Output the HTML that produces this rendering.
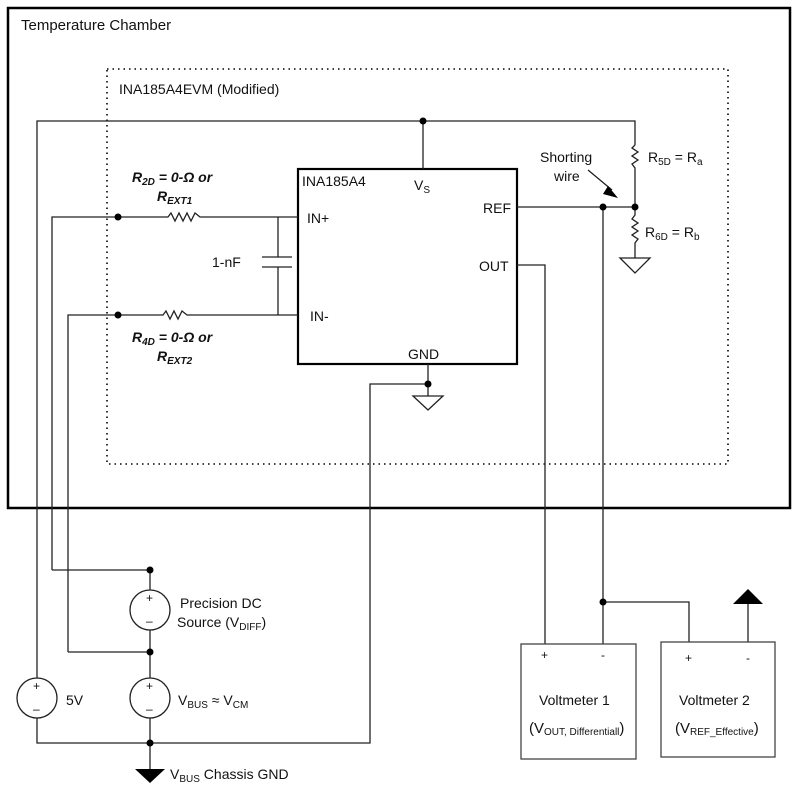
<!DOCTYPE html>
<html><head><meta charset="utf-8"><style>
html,body{margin:0;padding:0;background:#fff}
svg{display:block}
text{font-family:"Liberation Sans",sans-serif;fill:#111}
</style></head><body>
<svg width="797" height="788" viewBox="0 0 797 788" xmlns="http://www.w3.org/2000/svg">
<g fill="none" stroke="#222" stroke-width="1.3">
<rect x="8" y="8" width="782" height="500" stroke="#000" stroke-width="2.5"/>
<rect x="107" y="69" width="621" height="395" stroke="#000" stroke-width="1.6" stroke-dasharray="1.5,4"/>
<rect x="298" y="169" width="219" height="195" stroke="#000" stroke-width="2.2"/>
<!-- top wire -->
<polyline points="37,678 37,121 635,121 635,145"/>
<polyline points="635,145 632,148 638,152 632,156 638,160 632,164 635,168 635,215 632,219 638,223 632,227 638,231 632,235 638,239 635,243 635,258"/>
<polygon points="620,258 650,258 635,273"/>
<line x1="423" y1="121" x2="423" y2="169"/>
<!-- IN+ -->
<polyline points="52,570 52,217 168,217 171,213 175,221 179,213 183,221 187,213 191,221 195,213 200,217 298,217"/>
<polyline points="68,652 68,315 163,315 166,311 170,319 174,311 178,319 182,311 187,315 298,315"/>
<line x1="278" y1="217" x2="278" y2="257"/>
<line x1="278" y1="267" x2="278" y2="315"/>
<line x1="262" y1="257" x2="292" y2="257"/>
<line x1="262" y1="267" x2="292" y2="267"/>
<!-- REF / OUT -->
<line x1="517" y1="207" x2="635" y2="207"/>
<polyline points="517,265 545,265 545,644"/>
<line x1="603" y1="207" x2="603" y2="644"/>
<polyline points="603,602 689,602 689,642"/>
<line x1="748" y1="642" x2="748" y2="600"/>
<!-- GND -->
<line x1="428" y1="364" x2="428" y2="396"/>
<polyline points="428,384 370,384 370,743 37,743 37,718"/>
<polygon points="413,396 443,396 428,410"/>
<!-- sources -->
<polyline points="52,570 150,570 150,590"/>
<polyline points="68,652 150,652 150,630"/>
<line x1="150" y1="652" x2="150" y2="678"/>
<line x1="150" y1="718" x2="150" y2="769"/>
<circle cx="37" cy="698" r="20"/>
<circle cx="150" cy="610" r="20"/>
<circle cx="150" cy="698" r="20"/>
<!-- shorting wire arrow -->
<line x1="588" y1="170" x2="612" y2="190"/>
<!-- voltmeters -->
<rect x="521" y="644" width="115" height="115" stroke="#444"/>
<rect x="661" y="642" width="114" height="115" stroke="#444"/>
</g>
<polygon points="608,186 618,198 603,194" fill="#000"/>
<polygon points="135,769 165,769 150,783" fill="#000"/>
<polygon points="733,604 763,604 748,589" fill="#000"/>
<g fill="#000">
<circle cx="423" cy="121" r="3.5"/><circle cx="118" cy="217" r="3.5"/><circle cx="118" cy="315" r="3.5"/>
<circle cx="603" cy="207" r="3.5"/><circle cx="635" cy="207" r="3.5"/><circle cx="428" cy="384" r="3.5"/>
<circle cx="150" cy="570" r="3.5"/><circle cx="150" cy="652" r="3.5"/><circle cx="150" cy="743" r="3.5"/>
<circle cx="603" cy="602" r="3.5"/>
</g>
<g font-size="15">
<text x="21" y="30">Temperature Chamber</text>
<text x="119" y="94" font-size="14">INA185A4EVM (Modified)</text>
<text x="302" y="186" font-size="14">INA185A4</text>
<text x="414" y="190" font-size="14">V<tspan font-size="10" dy="3">S</tspan></text>
<text x="483" y="213" font-size="14">REF</text>
<text x="479" y="271" font-size="14">OUT</text>
<text x="307" y="223" font-size="14">IN+</text>
<text x="310" y="321" font-size="14">IN-</text>
<text x="408" y="359" font-size="14">GND</text>
<text x="212" y="267" font-size="14">1-nF</text>
<text x="540" y="162" font-size="14">Shorting</text>
<text x="554" y="181" font-size="14">wire</text>
<text x="648" y="162" font-size="14">R<tspan font-size="10" dy="3">5D</tspan><tspan dy="-3"> = R</tspan><tspan font-size="10" dy="3">a</tspan></text>
<text x="645" y="237" font-size="14">R<tspan font-size="10" dy="3">6D</tspan><tspan dy="-3"> = R</tspan><tspan font-size="10" dy="3">b</tspan></text>
<g font-weight="bold" font-style="italic" font-size="14">
<text x="132" y="182">R<tspan font-size="10" dy="3">2D</tspan><tspan dy="-3"> = 0-Ω or</tspan></text>
<text x="157" y="201">R<tspan font-size="10" dy="3">EXT1</tspan></text>
<text x="132" y="342">R<tspan font-size="10" dy="3">4D</tspan><tspan dy="-3"> = 0-Ω or</tspan></text>
<text x="157" y="361">R<tspan font-size="10" dy="3">EXT2</tspan></text>
</g>
<text x="180" y="608" font-size="14">Precision DC</text>
<text x="177" y="627" font-size="14">Source (V<tspan font-size="10" dy="3">DIFF</tspan><tspan dy="-3">)</tspan></text>
<text x="66" y="705" font-size="14">5V</text>
<text x="178" y="705" font-size="14">V<tspan font-size="10" dy="3">BUS</tspan><tspan dy="-3"> ≈ V</tspan><tspan font-size="10" dy="3">CM</tspan></text>
<text x="170" y="779" font-size="14">V<tspan font-size="10" dy="3">BUS</tspan><tspan dy="-3"> Chassis GND</tspan></text>
<g font-size="12"><text x="33" y="690">+</text><text x="33" y="713">–</text>
<text x="146" y="602">+</text><text x="146" y="625">–</text>
<text x="146" y="690">+</text><text x="146" y="713">–</text></g>
<text x="541" y="659" font-size="12">+</text><text x="601" y="659" font-size="12">-</text>
<text x="685" y="662" font-size="12">+</text><text x="746" y="662" font-size="12">-</text>
<text x="539" y="705" font-size="14">Voltmeter 1</text>
<text x="529" y="733" font-size="15">(V<tspan font-size="10" dy="2">OUT, Differentiall</tspan><tspan dy="-2">)</tspan></text>
<text x="679" y="705" font-size="14">Voltmeter 2</text>
<text x="675" y="733" font-size="15">(V<tspan font-size="10" dy="2">REF_Effective</tspan><tspan dy="-2">)</tspan></text>
</g>
</svg>
</body></html>
